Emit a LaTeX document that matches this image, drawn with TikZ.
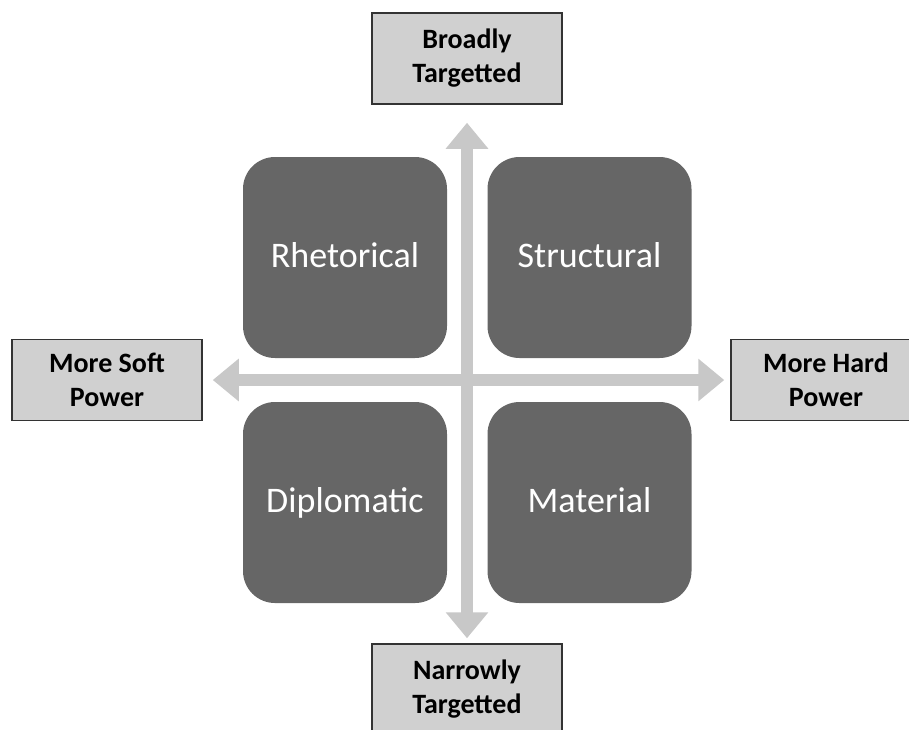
\documentclass[tikz,border=0pt]{standalone}
\usepackage{fontspec}
\setmainfont{Carlito}
\usetikzlibrary{arrows.meta}
\definecolor{quadgray}{HTML}{666666}
\definecolor{axisgray}{HTML}{C8C8C8}
\definecolor{boxgray}{HTML}{D0D0D0}
\tikzstyle{quad}=[rectangle,rounded corners=32pt,fill=quadgray,text=white,minimum width=204pt,minimum height=201pt,inner sep=0pt,text height=25pt,text depth=5pt,font=\fontsize{36}{43}\selectfont]
\tikzstyle{axisbox}=[rectangle,draw=black!80,line width=1.5pt,fill=boxgray,align=center,inner sep=0pt,minimum width=190pt,font=\bfseries\fontsize{28}{34}\selectfont]
\tikzstyle{axisline}=[draw=axisgray,line width=12pt,{Triangle[width=41pt,length=26pt]}-{Triangle[width=41pt,length=26pt]}]

\begin{document}
\begin{tikzpicture}[x=1pt,y=-1pt]
                 \useasboundingbox (0,0) rectangle (909,729);
                 % axis ends
                 \node[axisbox,minimum height=91pt] (broad) at (467,58.5) {Broadly\\Targetted};
                 \node[axisbox,minimum height=91pt] (narrow) at (467,689.5) {Narrowly\\Targetted};
                 \node[axisbox,minimum height=81pt] (soft) at (107,380) {More Soft\\Power};
                 \node[axisbox,minimum height=81pt] (hard) at (826,380) {More Hard\\Power};
                 \draw[axisline,shorten <=18pt,shorten >=5pt] (broad.south) -- (narrow.north);
                 \draw[axisline,shorten <=10pt,shorten >=6pt] (soft.east) -- (hard.west);
                 % quadrants
                 \path (345,257.5) node[quad] (rhet) {Rhetorical}
                     ++ (244.5,0) node[quad] (struct) {Structural}
                     ++ (0,245) node[quad] (mat) {Material}
                     ++ (-244.5,0) node[quad] (dipl) {Diplomatic}
                     ;
            \end{tikzpicture}
\end{document}
